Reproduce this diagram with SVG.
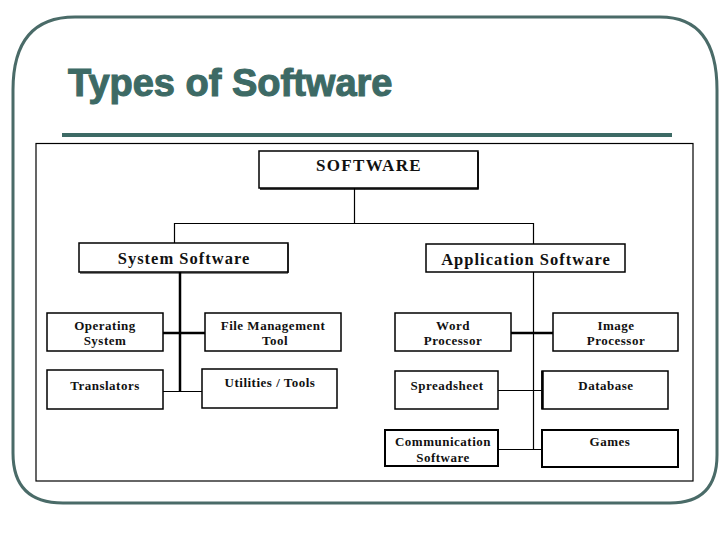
<svg xmlns="http://www.w3.org/2000/svg" width="728" height="546" viewBox="0 0 728 546">
<style>
.frame{fill:none;stroke:#4a6b68;stroke-width:3}
.box{fill:#fff;stroke:#000;stroke-width:1.5}
.bx2{fill:#fff;stroke:#000;stroke-width:2}
.t{font-family:"Liberation Serif","Times New Roman",serif;font-weight:bold;fill:#111;text-anchor:middle}
.big{font-size:16.5px;letter-spacing:1px}
.sm{font-size:13px;letter-spacing:0.5px}
.c{stroke:#000;stroke-width:1.2;fill:none}
.ck{stroke:#000;stroke-width:2.5;fill:none}
</style>
<rect width="728" height="546" fill="#fff"/>
<path class="frame" d="M75,17 H660 Q717,17 717,90 V455 Q717,503 670,503 H63 Q13,503 13,453 V90 Q13,17 75,17 Z"/>
<text x="68" y="96" font-family="Liberation Sans,Arial,sans-serif" font-weight="bold" font-size="38" fill="#3d6a65" stroke="#3d6a65" stroke-width="1.1">Types of Software</text>
<rect x="62" y="133" width="610" height="4" fill="#3d6a65"/>
<rect x="36" y="143.5" width="657" height="337.5" fill="none" stroke="#000" stroke-width="1.2"/>
<g id="connectors">
<path class="c" d="M354.5,188 V223.5 M174,223.5 H533.5 M174.5,223 V243 M533.5,223 V244"/>
<path class="ck" d="M180,272 V392 M163,333 H205"/>
<path class="c" d="M163,391.5 H202"/>
<path class="c" d="M533.5,272 V449.5 M498,390.5 H542 M498,449.5 H542"/>
<path class="ck" d="M511,333 H553"/>
</g>
<g id="software">
<rect class="box" x="259" y="151" width="219" height="37"/>
<path d="M478,152 V189 H260" stroke="#000" stroke-width="1.5" fill="none"/>
<text class="t" x="369" y="171" font-size="17" letter-spacing="1.3">SOFTWARE</text>
</g>
<g id="system-software">
<rect class="box" x="79" y="243" width="209" height="29"/>
<path d="M288,244 V273 H80" stroke="#000" stroke-width="1" fill="none"/>
<text class="t big" x="184" y="264">System Software</text>
</g>
<g id="application-software">
<rect class="box" x="426" y="244" width="199" height="28"/>
<text class="t big" x="526" y="265">Application Software</text>
</g>
<g id="operating-system">
<rect class="box" x="47" y="313" width="116" height="38"/>
<text class="t sm" x="105" y="330">Operating</text>
<text class="t sm" x="105" y="345">System</text>
</g>
<g id="file-management">
<rect class="box" x="205" y="313" width="136" height="38"/>
<text class="t sm" x="273" y="330">File Management</text>
<text class="t sm" x="275" y="345">Tool</text>
</g>
<g id="translators">
<rect class="box" x="47" y="370" width="116" height="39"/>
<text class="t sm" x="105" y="390">Translators</text>
</g>
<g id="utilities">
<rect class="box" x="202" y="369" width="135" height="39"/>
<text class="t sm" x="270" y="387">Utilities / Tools</text>
</g>
<g id="word-processor">
<rect class="box" x="395" y="313" width="116" height="38"/>
<text class="t sm" x="453" y="330">Word</text>
<text class="t sm" x="453" y="345">Processor</text>
</g>
<g id="image-processor">
<rect class="box" x="553" y="313" width="125" height="38"/>
<text class="t sm" x="616" y="330">Image</text>
<text class="t sm" x="616" y="345">Processor</text>
</g>
<g id="spreadsheet">
<rect class="box" x="395" y="371" width="103" height="38"/>
<text class="t sm" x="447" y="390">Spreadsheet</text>
</g>
<g id="database">
<rect class="box" x="542" y="371" width="126" height="38"/>
<path d="M542.5,371 V409" stroke="#000" stroke-width="2.5"/>
<text class="t sm" x="606" y="390">Database</text>
</g>
<g id="communication-software">
<rect class="bx2" x="385" y="430" width="113" height="36"/>
<text class="t sm" x="443" y="446">Communication</text>
<text class="t sm" x="443" y="462">Software</text>
</g>
<g id="games">
<rect class="bx2" x="542" y="430" width="136" height="37"/>
<text class="t sm" x="610" y="446">Games</text>
</g>
</svg>
